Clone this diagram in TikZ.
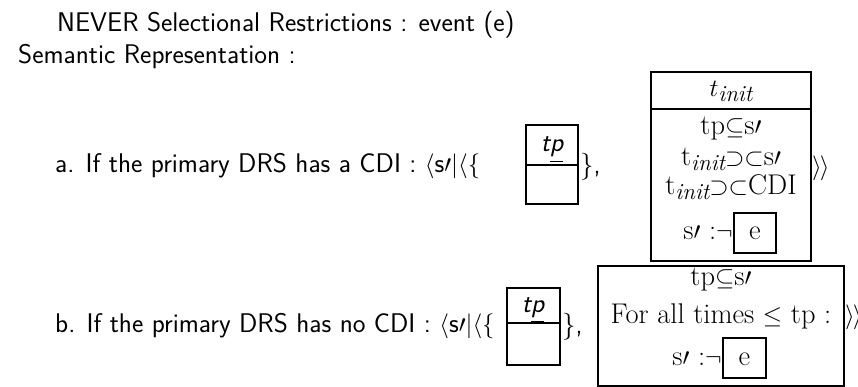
\documentclass[tikz,border=0pt]{standalone}
\usepackage{amssymb}
% lowered subscript "init", set larger than the usual script size
\newcommand{\initsub}{\raisebox{-4.5pt}{\fontsize{23}{23}\selectfont\itshape init}}
\begin{document}
\begin{tikzpicture}[x=1pt,y=-1pt,
  lbl/.style={inner sep=0pt, anchor=base west, font=\sffamily\fontsize{27}{32}\selectfont},
  cond/.style={inner sep=0pt, anchor=base, font=\fontsize{28.5}{34}\selectfont},
  frame/.style={draw, line width=1.3pt}]
\useasboundingbox (0,0) rectangle (858,387);

% heading lines
\node[lbl] (title) at (57,32) {NEVER Selectional Restrictions : event (e)};
\node[lbl] (sem) at (18,64) {Semantic Representation :};

% case a
\node[lbl] (la) at (55,173) {a. If the primary DRS has a CDI : $\langle$s$\prime|\langle\{$};
\draw[frame] (526,125) rectangle (578,204);
\draw[frame] (526,165) -- (578,165);
\node[lbl, anchor=base] (tpa) at (552,152) {\itshape t\underline{p}};
\node[lbl] (ca) at (580,174) {\},};

\draw[frame] (651,72) rectangle (811,261);
\draw[frame] (651,109) -- (811,109);
\node[cond] (tinit) at (731,97) {$t$\initsub};
\node[cond] (a1) at (731,135) {tp$\subseteq$s$\prime$};
\node[cond] (a2) at (731,166) {t\initsub$\supset\subset$s$\prime$};
\node[cond] (a3) at (731,195) {t\initsub$\supset\subset$CDI};
\draw[frame] (734,213) rectangle (776,253);
\node[cond] (ea) at (755,240) {e};
\node[cond, anchor=base east] (na) at (733,240) {s$\prime$ :$\neg$};
\node[cond, anchor=base west] (enda) at (812,175) {$\rangle\mkern-1.5mu\rangle$};

% case b
\node[lbl] (lb) at (55,332) {b. If the primary DRS has no CDI : $\langle$s$\prime|\langle\{$};
\draw[frame] (507,288) rectangle (560,365);
\draw[frame] (507,323) -- (560,323);
\node[lbl, anchor=base] (tpb) at (533,312) {\itshape t\underline{p}};
\node[lbl] (cb) at (562,333) {\},};

\draw[frame] (598,266) rectangle (844,386);
\node[cond] (b1) at (721,285) {tp$\subseteq$s$\prime$};
\node[cond] (b2) at (721,323) {For all times $\leq$ tp :};
\draw[frame] (723,338) rectangle (766,378);
\node[cond] (eb) at (744.5,365) {e};
\node[cond, anchor=base east] (nb) at (722,365) {s$\prime$ :$\neg$};
\node[cond, anchor=base west] (endb) at (845,323) {$\rangle\mkern-1.5mu\rangle$};
\end{tikzpicture}
\end{document}
